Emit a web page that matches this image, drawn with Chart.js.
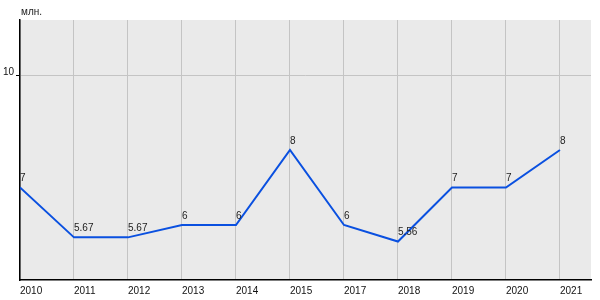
<!DOCTYPE html>
<html>
<head>
<meta charset="utf-8">
<script src="https://cdn.jsdelivr.net/npm/chart.js@4/dist/chart.umd.min.js"></script>
<style>
  html, body { margin: 0; padding: 0; background: #fff; }
  #wrap { position: relative; width: 600px; height: 300px; }
</style>
</head>
<body>
<div id="wrap"><canvas id="chart" width="600" height="300"></canvas></div>
<script>
var years = ["2010", "2011", "2012", "2013", "2014", "2015", "2017", "2018", "2019", "2020", "2021"]; // category labels
var values = [7, 5.67, 5.67, 6, 6, 8, 6, 5.56, 7, 7, 8]; // series values
var yTicks = [10]; // the only y tick shown
var unitLabel = "млн.";

var FONT = "'Liberation Sans', Arial, sans-serif";

// gray plot background
var bgPlugin = {
  id: "bg",
  beforeDraw: function (chart) {
    var a = chart.chartArea;
    var ctx = chart.ctx;
    ctx.save();
    ctx.fillStyle = "#eaeaea";
    ctx.fillRect(a.left, a.top, a.right - a.left, a.bottom - a.top);
    ctx.restore();
  }
};

// value labels above points + unit label
var labelPlugin = {
  id: "vals",
  afterDatasetsDraw: function (chart) {
    var ctx = chart.ctx;
    var meta = chart.getDatasetMeta(0);
    ctx.save();
    ctx.font = "10px " + FONT;
    ctx.fillStyle = "#222";
    ctx.textAlign = "left";
    ctx.textBaseline = "bottom";
    meta.data.forEach(function (pt, i) {
      ctx.fillText(String(values[i]), pt.x, pt.y - 4);
    });
    ctx.fillText(unitLabel, chart.chartArea.left + 1, 17);
    ctx.restore();
  }
};

var points = values.map(function (v, i) { return { x: i, y: v }; });

new Chart(document.getElementById("chart"), {
  type: "line",
  data: {
    datasets: [{
      data: points,
      borderColor: "#0a50e0",
      borderWidth: 2,
      pointRadius: 0,
      tension: 0,
      fill: false
    }]
  },
  options: {
    responsive: false,
    animation: false,
    events: [],
    layout: { padding: { left: 0, top: 20, right: 9, bottom: 0 } },
    plugins: { legend: { display: false }, tooltip: { enabled: false } },
    scales: {
      x: {
        type: "linear",
        min: 0,
        max: 10.575,
        afterFit: function (s) { s.height = 20; },
        afterBuildTicks: function (s) {
          s.ticks = years.map(function (y, i) { return { value: i }; });
        },
        ticks: {
          autoSkip: false,
          maxRotation: 0,
          align: "start",
          padding: 5,
          color: "#111",
          font: { family: FONT, size: 10 },
          callback: function (v) { return years[v]; }
        },
        grid: { color: "#c4c4c4", lineWidth: 1, drawTicks: false },
        border: { color: "#000", width: 1.5 }
      },
      y: {
        min: 4.5333,
        max: 11.4667,
        afterFit: function (s) { s.width = 20; },
        afterBuildTicks: function (s) {
          s.ticks = yTicks.map(function (v) { return { value: v }; });
        },
        ticks: {
          padding: 2,
          labelOffset: -3,
          color: "#111",
          font: { family: FONT, size: 10 }
        },
        grid: { color: "#c4c4c4", lineWidth: 1, tickLength: 4, tickColor: "#000" },
        border: { color: "#000", width: 1.5 }
      }
    }
  },
  plugins: [bgPlugin, labelPlugin]
});
</script>
</body>
</html>
